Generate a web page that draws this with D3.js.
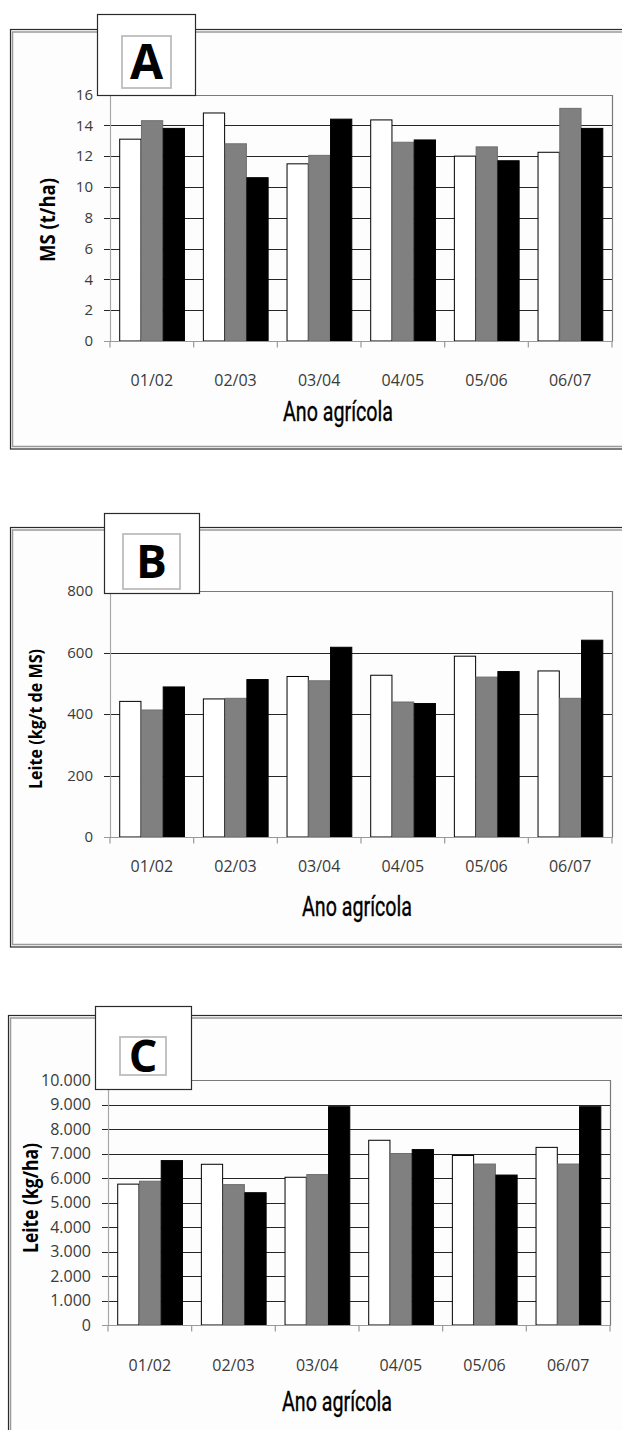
<!DOCTYPE html>
<html>
<head>
<meta charset="utf-8">
<script src="https://cdn.jsdelivr.net/npm/d3@7"></script>
<style>
  html, body { margin: 0; padding: 0; background: #ffffff; }
  svg { display: block; }
</style>
</head>
<body>
<script>
// ---------------- DATA ----------------
const categories = ["01/02", "02/03", "03/04", "04/05", "05/06", "06/07"];
const seriesKeys = ["branco", "cinza", "preto"];

// Panel A – MS (t/ha)
const msWhite = [13.1, 14.8, 11.5, 14.35, 12.0, 12.25];
const msGray  = [14.3, 12.8, 12.05, 12.9, 12.6, 15.1];
const msBlack = [13.8, 10.6, 14.4, 13.05, 11.7, 13.8];
const ticksA  = [0, 2, 4, 6, 8, 10, 12, 14, 16];

// Panel B – Leite (kg/t de MS)
const milkPerTWhite = [441, 449, 522, 526, 588, 540];
const milkPerTGray  = [413, 451, 508, 439, 520, 451];
const milkPerTBlack = [488, 512, 617, 434, 538, 640];
const ticksB = [0, 200, 400, 600, 800];

// Panel C – Leite (kg/ha)
const milkPerHaWhite = [5750, 6560, 6030, 7540, 6920, 7250];
const milkPerHaGray  = [5870, 5730, 6140, 7000, 6570, 6570];
const milkPerHaBlack = [6710, 5400, 8910, 7160, 6120, 8910];
const ticksC = [0, 1000, 2000, 3000, 4000, 5000, 6000, 7000, 8000, 9000, 10000];

const xTitle = "Ano agrícola";

// ---------------- LAYOUT ----------------
const W = 622, H = 1430;
const svg = d3.select("body").append("svg").attr("width", W).attr("height", H);

const ptFmt = d3.formatLocale({ decimal: ",", thousands: ".", grouping: [3], currency: ["", ""] }).format(",");

const colors = { branco: "#ffffff", cinza: "#808080", preto: "#000000" };
const strokes = { branco: "#000000", cinza: "#6e6e6e", preto: "#000000" };

const panels = [
  {
    letter: "A", white: msWhite, gray: msGray, black: msBlack, ticks: ticksA, max: 16, fmt: d3.format("d"),
    frame: { x: 10, y: 29.5, bottom: 449 },
    plot: { left: 110, right: 612, top: 94.5, bottom: 341 },
    box: { x: 97, y: 14, w: 98, h: 81 }, inner: { x: 122, y: 36, w: 49, h: 52 }, letterSize: 48,
    yTitle: "MS (t/ha)", yTitlePos: { x: 55, y: 220, size: 22, len: 84 },
    tickSize: 15, xLabelY: 386, xTitlePos: { x: 338, y: 421 }
  },
  {
    letter: "B", white: milkPerTWhite, gray: milkPerTGray, black: milkPerTBlack, ticks: ticksB, max: 800, fmt: d3.format("d"),
    frame: { x: 10, y: 527.5, bottom: 947 },
    plot: { left: 110, right: 612, top: 591, bottom: 837 },
    box: { x: 104, y: 513, w: 95, h: 80 }, inner: { x: 123, y: 534, w: 57, h: 55 }, letterSize: 46,
    yTitle: "Leite (kg/t de MS)", yTitlePos: { x: 42, y: 719, size: 18, len: 140 },
    tickSize: 15, xLabelY: 872, xTitlePos: { x: 357, y: 916 }
  },
  {
    letter: "C", white: milkPerHaWhite, gray: milkPerHaGray, black: milkPerHaBlack, ticks: ticksC, max: 10000, fmt: ptFmt,
    frame: { x: 8, y: 1015.5, bottom: 1445 },
    plot: { left: 108, right: 610, top: 1080, bottom: 1325 },
    box: { x: 95, y: 1006, w: 96, h: 83 }, inner: { x: 120, y: 1037, w: 46, h: 38 }, letterSize: 45,
    yTitle: "Leite (kg/ha)", yTitlePos: { x: 38, y: 1198, size: 21, len: 110 },
    tickSize: 16, xLabelY: 1371, xTitlePos: { x: 337, y: 1411 }
  }
];

panels.forEach(p => {
  const g = svg.append("g");
  const pl = p.plot;

  // outer frame (double line)
  g.append("rect")
    .attr("x", p.frame.x + 0.5).attr("y", p.frame.y)
    .attr("width", W + 20 - p.frame.x).attr("height", p.frame.bottom - p.frame.y)
    .attr("fill", "#fdfdfd").attr("stroke", "#2a2a2a").attr("stroke-width", 1.2);
  g.append("rect")
    .attr("x", p.frame.x + 2.5).attr("y", p.frame.y + 2.5)
    .attr("width", W + 20 - p.frame.x).attr("height", p.frame.bottom - p.frame.y - 5)
    .attr("fill", "none").attr("stroke", "#9a9a9a").attr("stroke-width", 1.5);

  const x0 = d3.scaleBand().domain(categories).range([pl.left, pl.right])
    .paddingInner(0.22).paddingOuter(0.11);
  const x1 = d3.scaleBand().domain(seriesKeys).range([0, x0.bandwidth()]);
  const y = d3.scaleLinear().domain([0, p.max]).range([pl.bottom, pl.top]);

  // gridlines (incl. tick marks)
  g.append("g").selectAll("line").data(p.ticks.filter(t => t > 0 && t < p.max)).join("line")
    .attr("x1", pl.left - 6).attr("x2", pl.right)
    .attr("y1", d => Math.round(y(d)) + 0.5).attr("y2", d => Math.round(y(d)) + 0.5)
    .attr("stroke", "#262626").attr("stroke-width", 1);
  g.append("line").attr("x1", pl.left - 6).attr("x2", pl.left)
    .attr("y1", Math.round(y(p.max)) + 0.5).attr("y2", Math.round(y(p.max)) + 0.5)
    .attr("stroke", "#262626");

  // plot border top/right
  g.append("path")
    .attr("d", `M${pl.left},${Math.round(y(p.max)) + 0.5}H${pl.right + 0.5}V${pl.bottom}`)
    .attr("fill", "none").attr("stroke", "#7a7a7a").attr("stroke-width", 1.2);

  // bars
  const rows = categories.map((c, i) => ({ cat: c, branco: p.white[i], cinza: p.gray[i], preto: p.black[i] }));
  const grp = g.append("g").selectAll("g").data(rows).join("g")
    .attr("transform", d => `translate(${x0(d.cat)},0)`);
  grp.selectAll("rect").data(d => seriesKeys.map(k => ({ key: k, value: d[k] }))).join("rect")
    .attr("x", d => x1(d.key) + 0.5)
    .attr("y", d => y(d.value))
    .attr("width", x1.bandwidth() - 0.5)
    .attr("height", d => y(0) - y(d.value))
    .attr("fill", d => colors[d.key])
    .attr("stroke", d => strokes[d.key])
    .attr("stroke-width", 1);

  // y axis line
  g.append("line").attr("x1", pl.left + 0.5).attr("x2", pl.left + 0.5)
    .attr("y1", y(p.max)).attr("y2", pl.bottom)
    .attr("stroke", "#a8a8a8").attr("stroke-width", 1.2);

  // x axis line + ticks
  const yb = Math.round(pl.bottom) + 0.5;
  g.append("line").attr("x1", pl.left - 6).attr("x2", pl.right + 1)
    .attr("y1", yb).attr("y2", yb).attr("stroke", "#9a9a9a").attr("stroke-width", 1.2);
  const bounds = d3.range(categories.length + 1).map(i => pl.left + i * x0.step());
  g.append("g").selectAll("line").data(bounds).join("line")
    .attr("x1", d => d).attr("x2", d => d)
    .attr("y1", yb).attr("y2", yb + 6)
    .attr("stroke", "#9a9a9a").attr("stroke-width", 1.2);

  // y tick labels
  g.append("g").selectAll("text").data(p.ticks).join("text")
    .attr("x", pl.left - 17).attr("y", d => y(d))
    .attr("dy", "0.35em")
    .attr("text-anchor", "end")
    .attr("font-family", "'Open Sans', sans-serif")
    .attr("font-size", p.tickSize)
    .attr("fill", "#3a3a3a")
    .text(d => p.fmt(d));

  // x tick labels
  g.append("g").selectAll("text").data(categories).join("text")
    .attr("x", d => x0(d) + x0.bandwidth() / 2)
    .attr("y", p.xLabelY)
    .attr("text-anchor", "middle")
    .attr("font-family", "'Open Sans', sans-serif")
    .attr("font-size", 16)
    .attr("fill", "#3a3a3a")
    .text(d => d);

  // x title (condensed)
  g.append("text")
    .attr("x", p.xTitlePos.x).attr("y", p.xTitlePos.y)
    .attr("text-anchor", "middle")
    .attr("font-family", "Roboto, sans-serif")
    .attr("font-size", 27)
    .attr("textLength", 110).attr("lengthAdjust", "spacingAndGlyphs")
    .attr("fill", "#000").attr("stroke", "#000").attr("stroke-width", 0.35)
    .text(xTitle);

  // y title (bold, condensed)
  g.append("text")
    .attr("transform", `translate(${p.yTitlePos.x},${p.yTitlePos.y}) rotate(-90)`)
    .attr("text-anchor", "middle")
    .attr("font-family", "'Open Sans', sans-serif")
    .attr("font-weight", "bold")
    .attr("font-size", p.yTitlePos.size)
    .attr("textLength", p.yTitlePos.len).attr("lengthAdjust", "spacingAndGlyphs")
    .attr("fill", "#000")
    .text(p.yTitle);

  // title box
  g.append("rect").attr("x", p.box.x + 0.5).attr("y", p.box.y + 0.5)
    .attr("width", p.box.w).attr("height", p.box.h)
    .attr("fill", "#ffffff").attr("stroke", "#2a2a2a").attr("stroke-width", 1.2);
  g.append("rect").attr("x", p.inner.x).attr("y", p.inner.y)
    .attr("width", p.inner.w).attr("height", p.inner.h)
    .attr("fill", "none").attr("stroke", "#bdbdbd").attr("stroke-width", 1.8);
  g.append("text")
    .attr("x", p.inner.x + p.inner.w / 2)
    .attr("y", p.inner.y + p.inner.h / 2)
    .attr("dy", "0.36em")
    .attr("text-anchor", "middle")
    .attr("font-family", "'Open Sans', sans-serif")
    .attr("font-weight", "bold")
    .attr("font-size", p.letterSize)
    .attr("fill", "#000")
    .text(p.letter);
});
</script>
</body>
</html>
